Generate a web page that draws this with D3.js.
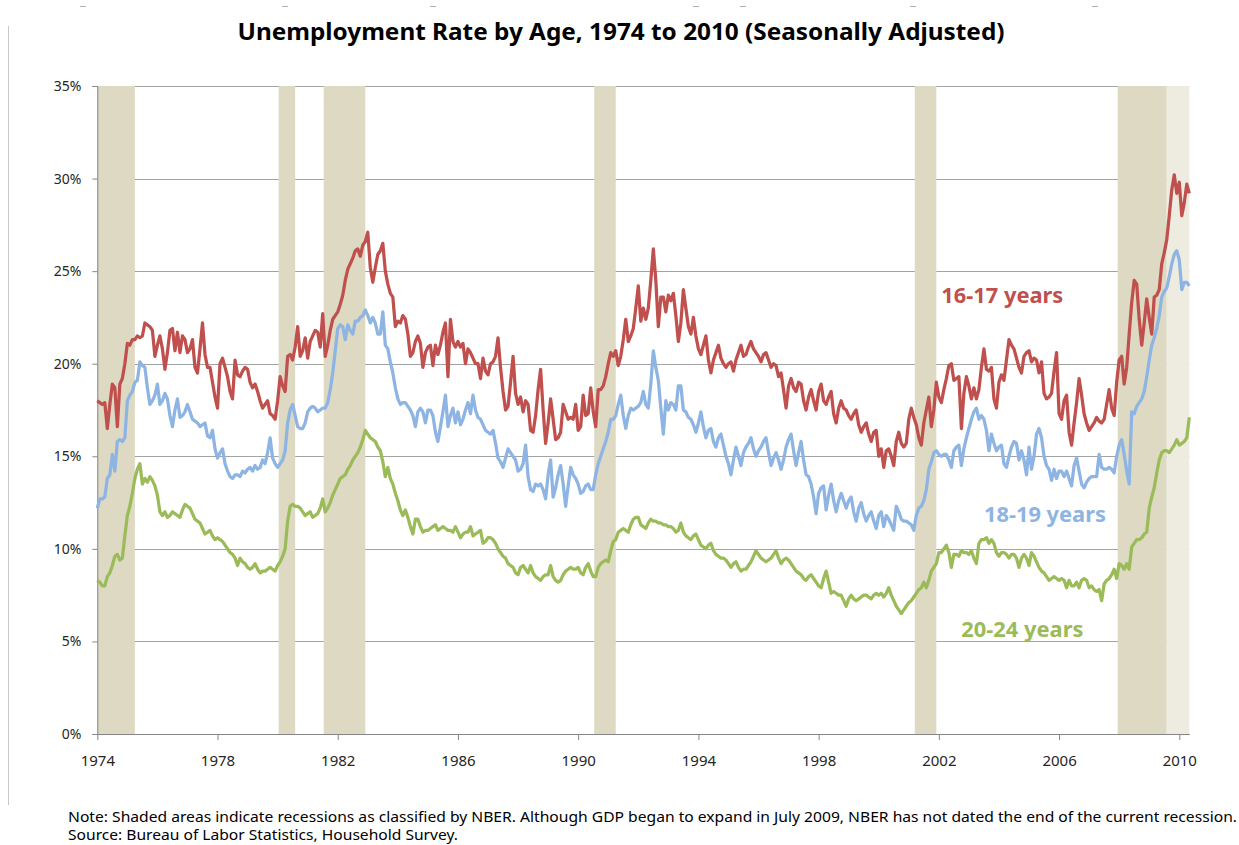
<!DOCTYPE html>
<html>
<head>
<meta charset="utf-8">
<script src="https://cdn.jsdelivr.net/npm/d3@7"></script>
<style>
  body { margin: 0; background: #fff; }
  svg { display: block; }
  text { font-family: "Noto Sans", "Open Sans", sans-serif; }
</style>
</head>
<body>
<svg id="chart" width="1239" height="845"></svg>
<script>
// monthly categories, Jan 1974 .. May 2010
const months = d3.timeMonth
  .range(new Date(1974, 0, 1), new Date(2010, 5, 1))
  .map(d3.timeFormat("%Y-%m"));

const tickMonths = ["1974-01", "1978-01", "1982-01", "1986-01", "1990-01",
  "1994-01", "1998-01", "2002-01", "2006-01", "2010-01"];
const yTicks = [0, 5, 10, 15, 20, 25, 30, 35];

// NBER recessions (peak month, trough month)
const recessions = [
  ["1973-11", "1975-03"],
  ["1980-01", "1980-07"],
  ["1981-07", "1982-11"],
  ["1990-07", "1991-03"],
  ["2001-03", "2001-11"],
  ["2007-12", "2009-07"],
];
// not yet dated by NBER
const openRecessionStart = "2009-08";

// unemployment rates, %, seasonally adjusted (one row per year)
const age1617 = [
  18.0,17.9,17.8,17.9,16.5,17.8,18.9,18.7,16.6,18.9,19.2,20.0,
  21.1,21.0,21.3,21.3,21.5,21.4,21.5,22.2,22.1,22.0,21.8,20.4,
  21.0,21.5,20.8,19.7,20.6,21.8,21.9,20.7,21.7,20.6,21.5,21.3,
  20.6,20.8,21.3,19.8,19.5,20.8,22.2,20.5,19.8,19.8,19.0,18.2,
  17.6,20.0,20.3,19.8,19.3,18.5,18.1,20.2,19.4,19.3,19.6,19.8,
  19.7,19.0,18.7,18.9,18.5,18.0,17.6,17.8,18.0,17.3,17.2,17.0,
  18.0,19.3,18.8,18.5,20.4,20.5,20.2,20.9,22.0,20.4,20.7,21.4,
  20.3,21.2,21.5,21.8,21.7,20.9,22.7,20.4,21.0,21.8,22.4,22.6,
  22.8,23.2,23.7,24.5,25.1,25.4,25.7,26.1,26.2,25.8,26.4,26.6,
  27.1,25.2,24.4,25.2,25.9,26.1,26.5,25.0,24.3,23.8,23.6,22.0,
  22.3,22.2,22.6,22.4,21.6,20.4,20.6,21.2,21.5,21.1,19.8,20.6,
  20.9,21.0,19.9,21.0,20.5,21.0,21.7,22.2,19.3,22.4,21.2,20.9,
  21.2,20.9,21.1,20.0,20.8,20.6,20.3,20.0,20.0,19.2,20.3,19.6,
  19.4,20.0,20.1,20.4,21.4,19.8,18.5,17.5,17.7,19.0,20.4,18.4,
  17.8,18.2,17.4,18.0,17.8,16.4,16.3,17.2,18.6,19.7,17.5,15.7,
  16.8,18.1,17.0,15.9,16.0,16.3,17.8,17.4,17.0,17.1,17.0,17.8,
  16.4,16.6,18.3,17.2,17.3,18.7,17.4,16.6,18.6,18.6,18.8,19.3,
  20.0,20.6,20.4,20.7,19.9,20.4,21.3,22.4,21.2,21.5,21.9,23.0,
  24.2,22.3,23.0,22.4,23.0,24.5,26.2,24.5,22.0,23.6,23.6,22.8,
  23.7,23.4,23.8,22.6,21.2,22.2,24.0,23.0,22.0,21.6,22.5,21.5,
  20.8,20.5,21.0,21.5,20.2,19.5,20.2,20.6,21.0,20.3,20.0,19.8,
  20.0,20.1,19.6,20.2,20.6,21.0,20.4,20.5,20.9,21.2,20.8,20.6,
  20.4,20.1,20.5,20.6,20.2,19.8,20.0,19.9,19.3,19.5,18.6,17.6,
  18.8,19.2,18.7,18.5,19.0,18.9,18.0,17.5,18.2,18.6,18.0,17.5,
  18.5,18.9,18.0,17.8,18.2,18.5,17.3,16.8,17.6,18.0,17.6,17.5,
  17.2,17.0,17.3,17.5,16.7,16.3,16.6,16.8,16.2,15.8,16.3,16.4,
  15.0,15.4,14.4,15.3,15.4,15.0,14.5,15.8,16.3,15.7,15.5,15.7,
  17.0,17.6,17.1,16.7,16.0,15.6,16.8,17.5,18.2,16.6,17.5,19.0,
  18.2,17.9,18.6,19.2,19.9,20.0,19.1,19.2,19.3,16.5,18.4,19.3,
  18.8,18.1,18.7,18.1,18.6,19.8,20.8,19.7,19.6,19.8,18.1,17.6,
  19.0,19.4,19.1,20.2,21.3,21.0,20.8,20.3,19.8,19.5,20.4,20.6,
  20.7,20.1,20.3,20.2,19.5,20.1,18.4,18.1,18.2,18.4,19.6,20.6,
  17.3,17.0,18.0,18.3,16.3,15.6,16.8,17.9,19.2,18.3,17.3,16.8,
  16.4,16.6,16.8,17.1,16.9,16.8,17.0,17.8,18.6,17.6,17.2,19.0,
  20.2,20.4,18.9,19.8,21.6,23.3,24.5,24.3,22.4,21.0,22.2,23.5,
  22.5,21.6,23.6,23.7,24.0,25.4,26.0,26.7,28.0,29.4,30.2,29.2,
  29.8,28.0,28.7,29.7,29.2
];

const age1819 = [
  12.2,12.7,12.7,12.8,13.8,14.0,15.1,14.2,15.8,15.9,15.8,16.0,
  18.0,18.3,18.5,19.0,19.1,20.1,19.9,19.8,18.7,17.8,18.0,18.3,
  18.9,17.8,18.0,18.4,18.1,17.2,16.6,17.5,18.1,17.1,17.2,17.4,
  17.8,17.4,17.0,16.9,16.8,16.6,16.7,16.8,16.1,16.0,16.4,15.4,
  14.9,15.2,15.4,14.6,14.2,13.9,13.8,14.0,14.0,13.9,14.2,14.1,
  14.3,14.4,14.2,14.5,14.3,14.4,14.8,14.6,15.2,16.0,14.9,14.6,
  14.4,14.6,14.8,15.3,16.8,17.5,17.8,17.2,16.6,16.5,16.5,16.8,
  17.4,17.6,17.7,17.6,17.4,17.5,17.6,17.6,17.9,18.6,19.5,20.7,
  21.9,22.1,22.0,21.3,22.1,21.8,21.6,22.3,22.3,22.5,22.6,22.9,
  22.6,22.2,22.5,22.2,21.6,21.6,22.8,21.0,20.8,20.1,19.5,18.7,
  18.1,17.8,17.9,17.9,17.7,17.5,17.2,16.6,17.4,17.6,17.4,16.8,
  17.5,17.5,17.2,16.3,15.8,16.6,17.4,18.3,16.6,17.2,17.6,16.8,
  17.4,16.7,17.0,17.5,17.9,17.3,18.3,17.5,17.1,17.0,16.7,16.4,
  16.3,16.2,16.4,15.7,14.9,14.7,14.4,14.9,15.4,15.2,15.0,14.8,
  14.2,14.3,14.6,15.6,13.9,13.2,13.1,13.5,13.4,13.5,13.2,12.7,
  14.0,14.8,12.8,13.3,14.0,14.5,13.5,12.3,13.4,14.4,14.0,13.8,
  13.5,13.0,13.1,13.4,13.5,13.2,13.2,14.0,14.6,15.0,15.4,15.8,
  16.3,17.0,17.0,17.2,17.8,18.3,17.2,16.5,17.2,17.6,17.5,17.6,
  17.7,17.9,18.5,17.8,17.6,18.9,20.7,19.8,19.1,17.6,16.2,18.0,
  17.5,17.9,17.8,17.5,18.8,18.8,17.5,17.4,17.1,17.0,16.7,16.3,
  16.8,17.4,16.6,16.0,16.4,16.5,15.8,15.5,16.0,16.2,15.6,15.0,
  14.6,14.0,14.8,15.5,15.0,14.5,15.2,15.5,15.7,16.0,15.4,15.0,
  15.3,15.5,15.8,16.0,15.2,14.5,14.9,15.2,14.8,14.3,14.8,15.5,
  15.9,16.2,15.3,14.5,15.2,15.8,14.8,14.0,13.9,13.5,12.8,11.9,
  13.0,13.3,13.4,12.1,12.9,13.5,12.6,12.0,12.6,13.0,12.6,12.2,
  12.6,12.8,12.0,11.5,12.2,12.5,11.9,11.5,11.8,12.0,11.5,11.1,
  11.8,12.0,11.2,11.8,11.6,11.3,11.0,12.3,12.0,11.6,11.5,11.5,
  11.4,11.3,11.0,11.8,12.2,12.3,12.6,13.2,14.3,14.7,15.2,15.3,
  15.1,15.0,15.1,15.1,14.8,14.4,15.3,15.5,15.6,14.5,15.4,16.0,
  16.5,17.0,17.4,17.6,17.0,17.2,17.0,16.4,15.3,16.2,15.7,15.3,
  15.5,15.6,14.6,14.4,15.0,15.5,15.8,15.7,14.8,15.3,14.8,14.0,
  15.5,14.3,15.0,16.2,16.5,16.0,15.0,14.5,14.3,13.7,14.3,13.8,
  14.2,14.2,13.9,14.2,13.8,13.4,14.5,14.9,14.2,13.5,13.3,13.6,
  13.8,13.9,13.9,13.9,15.1,14.4,14.3,14.3,14.4,14.3,14.1,15.0,
  15.6,15.9,15.1,14.2,13.5,17.4,17.3,17.7,17.9,18.1,18.5,19.3,
  20.2,21.0,21.4,21.9,22.6,23.6,23.9,24.1,24.7,25.4,25.9,26.1,
  25.6,24.0,24.4,24.4,24.2
];

const age2024 = [
  8.3,8.2,8.0,8.0,8.5,8.7,9.1,9.6,9.7,9.4,9.5,10.7,
  11.8,12.3,13.0,13.8,14.3,14.6,13.5,13.8,13.6,13.9,13.7,13.4,
  12.9,12.0,11.8,12.0,11.7,11.8,12.0,11.9,11.8,11.7,12.1,12.4,
  12.3,12.2,11.9,11.6,11.5,11.4,11.1,10.8,10.9,11.0,10.7,10.5,
  10.6,10.5,10.4,10.2,10.0,9.8,9.7,9.5,9.1,9.5,9.3,9.2,
  9.0,8.9,9.0,9.2,8.9,8.7,8.8,8.8,8.9,9.0,8.9,8.8,
  9.1,9.3,9.6,10.0,11.5,12.3,12.4,12.3,12.3,12.2,12.0,11.8,
  11.9,12.0,11.7,11.8,11.9,12.2,12.7,12.0,12.2,12.5,12.9,13.2,
  13.5,13.8,13.9,14.0,14.3,14.5,14.8,15.0,15.2,15.5,15.9,16.4,
  16.2,16.0,15.9,15.8,15.5,15.3,14.7,13.9,14.4,13.8,13.5,13.0,
  12.6,12.1,11.8,12.1,11.7,11.2,10.8,11.6,11.6,11.2,10.9,11.0,
  11.0,11.1,11.2,11.3,11.0,11.1,11.2,11.1,11.0,11.0,10.9,11.2,
  10.9,10.6,10.8,10.9,10.9,11.2,10.7,10.8,10.9,11.0,10.3,10.4,
  10.6,10.6,10.5,10.3,10.0,9.8,9.6,9.5,9.2,9.1,9.0,8.7,
  8.6,9.0,9.1,8.9,8.7,9.1,8.7,8.5,8.4,8.3,8.5,8.6,
  8.6,9.1,8.5,8.3,8.2,8.3,8.6,8.8,8.9,9.0,8.9,8.9,
  9.0,8.7,8.6,9.0,9.2,8.8,8.5,8.5,9.0,9.2,9.3,9.4,
  9.3,9.9,10.4,10.5,10.9,11.0,11.1,11.0,10.9,11.3,11.6,11.7,
  11.7,11.3,11.2,11.1,11.4,11.6,11.5,11.5,11.4,11.4,11.3,11.3,
  11.2,11.2,11.1,10.9,11.0,11.4,10.9,10.7,10.6,10.5,10.7,10.8,
  10.5,10.2,10.1,10.0,10.2,10.3,9.9,9.7,9.6,9.5,9.5,9.4,
  9.2,9.0,9.2,9.3,9.0,8.8,8.9,8.9,9.1,9.3,9.6,9.9,
  9.7,9.5,9.4,9.3,9.4,9.5,9.7,9.9,9.5,9.2,9.4,9.5,
  9.4,9.2,9.0,8.8,8.7,8.6,8.4,8.3,8.5,8.6,8.4,8.2,
  8.0,7.9,8.4,8.8,8.2,7.6,7.7,7.6,7.5,7.5,7.2,6.9,
  7.3,7.5,7.3,7.2,7.3,7.4,7.5,7.5,7.4,7.3,7.5,7.6,
  7.5,7.6,7.4,7.6,7.9,7.5,7.2,6.9,6.7,6.5,6.7,6.9,
  7.1,7.2,7.4,7.6,7.8,7.9,8.2,7.9,8.3,8.8,9.0,9.2,
  9.8,9.8,10.0,10.2,9.8,9.0,9.7,9.7,9.6,9.9,9.8,9.8,
  9.7,9.9,9.5,9.2,10.3,10.5,10.5,10.6,10.3,10.5,10.3,9.8,
  9.6,9.8,9.8,9.7,9.5,9.7,9.7,9.5,9.0,9.5,9.7,9.5,
  9.1,9.8,9.6,9.3,9.0,8.8,8.7,8.5,8.3,8.4,8.5,8.4,
  8.3,8.4,8.3,7.9,8.3,8.0,8.0,8.2,7.9,8.3,8.4,8.3,
  7.9,8.0,7.8,7.7,7.8,7.2,8.1,8.3,8.4,8.6,8.9,8.4,
  9.2,9.1,8.9,9.2,8.9,10.1,10.3,10.5,10.5,10.6,10.8,10.9,
  12.2,12.8,13.3,14.1,14.8,15.2,15.3,15.3,15.2,15.4,15.6,15.9,
  15.6,15.7,15.8,16.0,17.1
];

const series = [
  { name: "16-17 years", values: age1617, color: "#c0504d", label: ["2002-02", 23.3] },
  { name: "18-19 years", values: age1819, color: "#8db4e2", label: ["2003-07", 11.45] },
  { name: "20-24 years", values: age2024, color: "#9bbb59", label: ["2002-10", 5.25] },
];

const svg = d3.select("#chart");
const W = 1239, H = 845;
const plotLeft = 97.3, plotRight = 1189.3, plotTop = 86, plotBottom = 734;

svg.append("rect").attr("width", W).attr("height", H).attr("fill", "#fff");

// page edge artefacts of the original capture
svg.append("line")
  .attr("x1", 8.5).attr("x2", 8.5).attr("y1", 26).attr("y2", 805)
  .attr("stroke", "#c8c8c8").attr("stroke-width", 1);
svg.selectAll("line.dash")
  .data([83, 285, 433, 696, 743, 913, 1095])
  .join("line")
  .attr("class", "dash")
  .attr("x1", (d) => d - 3).attr("x2", (d) => d + 3)
  .attr("y1", 6.5).attr("y2", 6.5)
  .attr("stroke", "#b0b0b0");

const x = d3.scalePoint().domain(months).range([plotLeft, plotRight]);
const step = x.step();
const y = d3.scaleLinear().domain([0, 35]).range([plotBottom, plotTop]);

// gridlines
svg.append("g")
  .selectAll("line")
  .data(yTicks.filter((d) => d > 0))
  .join("line")
  .attr("x1", plotLeft).attr("x2", plotRight)
  .attr("y1", (d) => Math.round(y(d)) + 0.5)
  .attr("y2", (d) => Math.round(y(d)) + 0.5)
  .attr("stroke", "#a3a3a3");

// recession shading
const xStart = (m) => (m < months[0] ? plotLeft : x(m) + 0.4 * step);
const xEnd = (m) => Math.min(plotRight, x(m) + step);

svg.append("g")
  .selectAll("rect")
  .data(recessions)
  .join("rect")
  .attr("x", (d) => xStart(d[0]))
  .attr("width", (d) => xEnd(d[1]) - xStart(d[0]))
  .attr("y", plotTop)
  .attr("height", plotBottom - plotTop)
  .attr("fill", "#ddd9c3");

svg.append("rect")
  .attr("x", x(openRecessionStart))
  .attr("width", plotRight - x(openRecessionStart))
  .attr("y", plotTop)
  .attr("height", plotBottom - plotTop)
  .attr("fill", "#eeece1");

// axes
const yAxis = svg.append("g")
  .attr("transform", `translate(${plotLeft},0)`)
  .call(d3.axisLeft(y).tickValues(yTicks).tickSize(5).tickPadding(11)
    .tickFormat((d) => d + "%"));
yAxis.select(".domain").attr("stroke", "#868686");
yAxis.selectAll(".tick line").attr("stroke", "#868686");
yAxis.selectAll(".tick text")
  .attr("font-size", 14).attr("fill", "#262626")
  .attr("font-family", "'Noto Sans', sans-serif");

const xAxis = svg.append("g")
  .attr("transform", `translate(0,${plotBottom})`)
  .call(d3.axisBottom(x).tickValues(tickMonths).tickSize(6).tickPadding(15)
    .tickSizeOuter(0)
    .tickFormat((d) => d.slice(0, 4)));
xAxis.select(".domain").attr("stroke", "#868686");
xAxis.selectAll(".tick line").attr("stroke", "#868686");
xAxis.selectAll(".tick text")
  .attr("font-size", 15).attr("fill", "#262626")
  .attr("font-family", "'Noto Sans', sans-serif");

// series
const line = d3.line()
  .x((d, i) => x(months[i]))
  .y((d) => y(d));

svg.append("g")
  .selectAll("path")
  .data(series)
  .join("path")
  .attr("d", (d) => line(d.values))
  .attr("fill", "none")
  .attr("stroke", (d) => d.color)
  .attr("stroke-width", 3.25)
  .attr("stroke-linejoin", "round");

svg.append("g")
  .selectAll("text")
  .data(series)
  .join("text")
  .attr("x", (d) => x(d.label[0]))
  .attr("y", (d) => y(d.label[1]))
  .attr("fill", (d) => d.color)
  .attr("font-size", 21)
  .attr("font-weight", "bold")
  .attr("textLength", 122)
  .attr("lengthAdjust", "spacingAndGlyphs")
  .text((d) => d.name);

// title and notes
svg.append("text")
  .attr("x", 621).attr("y", 40)
  .attr("text-anchor", "middle")
  .attr("font-size", 24)
  .attr("font-weight", "bold")
  .attr("fill", "#000")
  .attr("textLength", 767)
  .attr("lengthAdjust", "spacingAndGlyphs")
  .text("Unemployment Rate by Age, 1974 to 2010 (Seasonally Adjusted)");

svg.append("text")
  .attr("x", 68).attr("y", 822)
  .attr("font-size", 13.5)
  .attr("fill", "#000")
  .attr("textLength", 1169)
  .attr("lengthAdjust", "spacingAndGlyphs")
  .text("Note: Shaded areas indicate recessions as classified by NBER.  Although GDP began to expand in July 2009, NBER  has not dated the end of the current recession.");

svg.append("text")
  .attr("x", 68).attr("y", 840)
  .attr("font-size", 13.5)
  .attr("fill", "#000")
  .attr("textLength", 390)
  .attr("lengthAdjust", "spacingAndGlyphs")
  .text("Source: Bureau of Labor Statistics,  Household Survey.");
</script>
</body>
</html>
